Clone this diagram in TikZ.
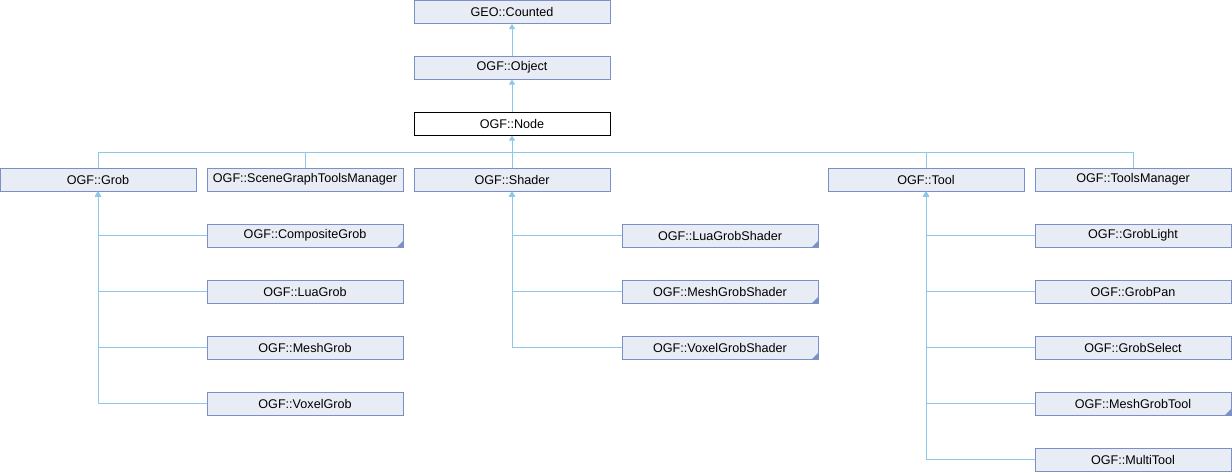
\documentclass[tikz,border=0pt]{standalone}
\usepackage{fontspec}
\setmainfont{Liberation Sans}
\usetikzlibrary{arrows.meta}
\definecolor{boxfill}{HTML}{E8ECF5}
\definecolor{boxdraw}{HTML}{7B90C6}
\definecolor{linecol}{HTML}{8DC8EB}
\tikzset{
  cls/.style={draw=boxdraw, fill=boxfill, line width=1pt, minimum width=196pt, minimum height=23pt, inner sep=0pt, font=\fontsize{12.6}{14}\selectfont, text=black},
  cur/.style={cls, draw=black, fill=white},
  more/.style={path picture={\fill[boxdraw] (path picture bounding box.south east) -- ++(-6pt,0pt) -- ++(6pt,6pt) -- cycle;}},
  conn/.style={draw=linecol, line width=1pt},
  arr/.style={conn, -{Triangle[width=6pt,length=5pt]}},
}
\begin{document}
\begin{tikzpicture}[x=1pt,y=-1pt]
\useasboundingbox (0,0) rectangle (1232,472);
% top chain
\node[cls] (cnt) at (512,12) {GEO::Counted};
\node[cls] (obj) at (512,67.5) {OGF::Object};
\node[cur] (nd) at (512,123.5) {OGF::Node};
% row 1
\node[cls] (grob) at (98,179.5) {OGF::Grob};
\node[cls] (sgtm) at (305,179.5) {OGF::SceneGraphToolsManager};
\node[cls] (shader) at (512,179.5) {OGF::Shader};
\node[cls] (tool) at (926,179.5) {OGF::Tool};
\node[cls] (tm) at (1133,179.5) {OGF::ToolsManager};
% grob children
\node[cls,more] (comp) at (305,235.5) {OGF::CompositeGrob};
\node[cls] (luag) at (305,291.5) {OGF::LuaGrob};
\node[cls] (meshg) at (305,347.5) {OGF::MeshGrob};
\node[cls] (voxg) at (305,403.5) {OGF::VoxelGrob};
% shader children
\node[cls,more] (luas) at (720,235.5) {OGF::LuaGrobShader};
\node[cls,more] (meshs) at (720,291.5) {OGF::MeshGrobShader};
\node[cls,more] (voxs) at (720,347.5) {OGF::VoxelGrobShader};
% tool children
\node[cls] (light) at (1133,235.5) {OGF::GrobLight};
\node[cls] (pan) at (1133,291.5) {OGF::GrobPan};
\node[cls] (sel) at (1133,347.5) {OGF::GrobSelect};
\node[cls,more] (mgt) at (1133,403.5) {OGF::MeshGrobTool};
\node[cls] (multi) at (1133,459.5) {OGF::MultiTool};
% connectors
\draw[arr] (obj.north) -- (cnt.south);
\draw[arr] (nd.north) -- (obj.south);
\coordinate (busL) at (98,152);
\coordinate (busR) at (1133,152);
\draw[conn] (grob.north) -- (busL) -- (busR) -- (tm.north);
\draw[conn] (sgtm.north) -- (sgtm.north |- busL);
\draw[conn] (tool.north) -- (tool.north |- busL);
\draw[arr] (shader.north) -- (nd.south);
\foreach \c in {comp,luag,meshg,voxg} {\draw[arr] (\c.west) -| (grob.south);}
\foreach \c in {luas,meshs,voxs} {\draw[arr] (\c.west) -| (shader.south);}
\foreach \c in {light,pan,sel,mgt,multi} {\draw[arr] (\c.west) -| (tool.south);}
\end{tikzpicture}
\end{document}
